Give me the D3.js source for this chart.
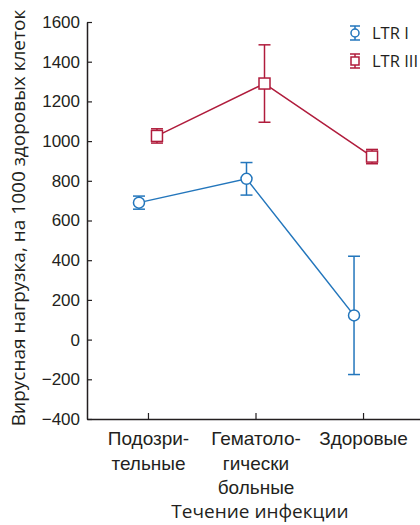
<!DOCTYPE html>
<html><head><meta charset="utf-8">
<script src="https://cdn.jsdelivr.net/npm/d3@7"></script>
<style>body{margin:0;background:#fff}svg{display:block;font-family:"Open Sans","Noto Sans",sans-serif}</style>
</head><body><svg id="c" width="420" height="525"></svg>
<script>
const categories = ["Подозри-\nтельные", "Гематоло-\nгически\nбольные", "Здоровые"];
const seriesNames = ["LTR I", "LTR III"];
const ltr1Mean = [690, 810, 122];
const ltr1Err = [33, 82, 298];
const ltr3Mean = [1026, 1290, 922];
const ltr3Err = [36, 195, 36];
const yTicks = [-400, -200, 0, 200, 400, 600, 800, 1000, 1200, 1400, 1600];
const yTickLabels = ["\u2212400", "\u2212200", "0", "200", "400", "600", "800", "1000", "1200", "1400", "1600"];
const colors = ["#2376bc", "#b01c3c"];

const svg = d3.select("#c");
const x = d3.scalePoint().domain(categories).range([87, 424]).padding(0.567);
const y = d3.scaleLinear().domain([-400, 1600]).range([419, 22]);
const dodge = [-9, 9];
const ink = "#231f20";

// Y axis
const ya = svg.append("g").attr("transform", "translate(87,0)")
  .call(d3.axisLeft(y).tickValues(yTicks).tickSizeInner(-5).tickSizeOuter(0).tickPadding(7)
    .tickFormat((d, i) => yTickLabels[i]));
ya.select(".domain").attr("stroke", ink).attr("stroke-width", 1.5);
ya.selectAll(".tick line").attr("stroke", ink).attr("stroke-width", 1.2);
ya.selectAll(".tick text").attr("font-size", 17).attr("fill", ink);

// X axis
const xa = svg.append("g").attr("transform", "translate(0,419)")
  .call(d3.axisBottom(x).tickSizeInner(-6).tickSizeOuter(0).tickFormat(""));
xa.select(".domain").attr("stroke", ink).attr("stroke-width", 1.5);
xa.selectAll(".tick line").attr("stroke", ink).attr("stroke-width", 1.2);
xa.selectAll(".tick").each(function(d) {
  const lines = d.split("\n");
  const t = d3.select(this).append("text").attr("fill", ink).attr("font-size", 19)
    .attr("text-anchor", "middle");
  lines.forEach((l, i) => t.append("tspan").attr("x", 0).attr("y", 26 + i * 24.5).text(l));
});

// axis titles
svg.append("text").attr("transform", "translate(25,218) rotate(-90)")
  .attr("text-anchor", "middle").attr("font-size", 19).attr("fill", ink)
  .text("Вирусная нагрузка, на 1000 здоровых клеток");
svg.append("text").attr("x", 260).attr("y", 518).attr("text-anchor", "middle")
  .attr("font-size", 19).attr("fill", ink).text("Течение инфекции");

const series = [
  {name: seriesNames[0], mean: ltr1Mean, err: ltr1Err, color: colors[0], shape: "circle", dx: dodge[0]},
  {name: seriesNames[1], mean: ltr3Mean, err: ltr3Err, color: colors[1], shape: "square", dx: dodge[1]}
];

function drawMarker(g, shape, cx, cy, color, s) {
  if (shape === "circle") {
    g.append("circle").attr("cx", cx).attr("cy", cy).attr("r", s)
      .attr("fill", "#fff").attr("stroke", color).attr("stroke-width", 1.5);
  } else {
    g.append("rect").attr("x", cx - s).attr("y", cy - s).attr("width", 2 * s).attr("height", 2 * s)
      .attr("fill", "#fff").attr("stroke", color).attr("stroke-width", 1.5);
  }
}

series.forEach(s => {
  const g = svg.append("g");
  const pts = categories.map((c, i) => [x(c) + s.dx, y(s.mean[i])]);
  g.append("path").attr("d", d3.line()(pts)).attr("fill", "none")
    .attr("stroke", s.color).attr("stroke-width", 1.5);
  categories.forEach((c, i) => {
    const cx = x(c) + s.dx;
    const hi = y(s.mean[i] + s.err[i]), lo = y(s.mean[i] - s.err[i]);
    g.append("line").attr("x1", cx).attr("x2", cx).attr("y1", hi).attr("y2", lo)
      .attr("stroke", s.color).attr("stroke-width", 1.5);
    [hi, lo].forEach(yy => g.append("line").attr("x1", cx - 6).attr("x2", cx + 6)
      .attr("y1", yy).attr("y2", yy).attr("stroke", s.color).attr("stroke-width", 1.5));
  });
  categories.forEach((c, i) => drawMarker(g, s.shape, x(c) + s.dx, y(s.mean[i]), s.color, 5.5));
});

// legend
series.forEach((s, i) => {
  const ly = 33 + i * 28, lx = 355;
  const g = svg.append("g");
  g.append("line").attr("x1", lx).attr("x2", lx).attr("y1", ly - 7).attr("y2", ly + 7)
    .attr("stroke", s.color).attr("stroke-width", 1.5);
  [ly - 7, ly + 7].forEach(yy => g.append("line").attr("x1", lx - 5).attr("x2", lx + 5)
    .attr("y1", yy).attr("y2", yy).attr("stroke", s.color).attr("stroke-width", 1.5));
  drawMarker(g, s.shape, lx, ly, s.color, 4);
  g.append("text").attr("x", 372).attr("y", ly).attr("dy", "0.35em").attr("font-size", 16.5)
    .attr("fill", ink).text(s.name);
});
</script></body></html>
